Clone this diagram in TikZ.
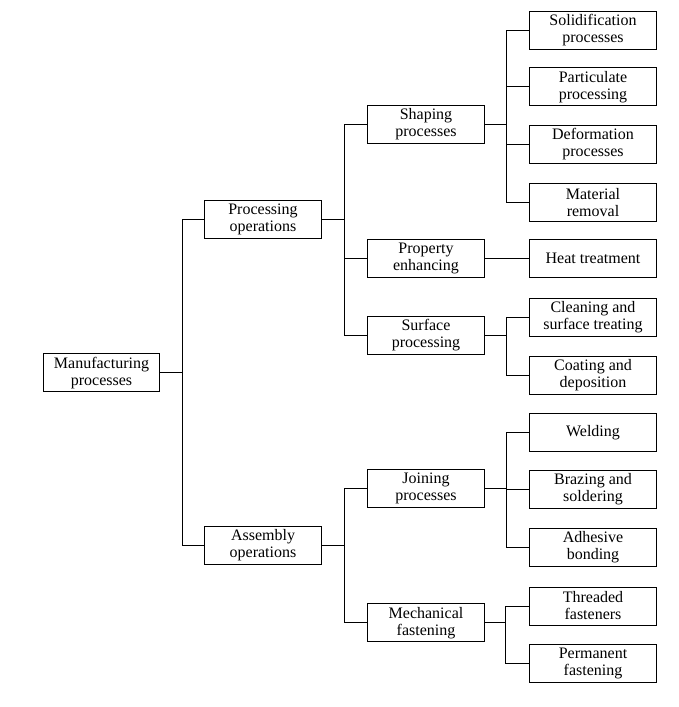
\documentclass[tikz,border=0pt]{standalone}
\usepackage{fontspec}
\setmainfont{Liberation Serif}
\begin{document}
\begin{tikzpicture}[
    x=1pt, y=-1pt,
    proc/.style={rectangle, draw, line width=0.9pt, minimum width=117pt, minimum height=38pt, inner sep=1pt, align=center, font=\fontsize{16}{17}\selectfont},
    leaf/.style={proc, minimum width=127pt},
    link/.style={line width=0.9pt}
]
    \useasboundingbox (0,0) rectangle (678,707);

    % Hauptprozesse
    \node[proc, minimum width=116pt] (mp) at (101.5,372.8) {Manufacturing\\processes};
    \node[proc] (po) at (263,219.3) {Processing\\operations};
    \node[proc] (ao) at (263,545.5) {Assembly\\operations};

    % Teilprozesse
    \node[proc] (sp) at (426,124.5) {Shaping\\processes};
    \node[proc] (pe) at (426,258.8) {Property\\enhancing};
    \node[proc] (su) at (426,335.5) {Surface\\processing};
    \node[proc] (jp) at (426,488) {Joining\\processes};
    \node[proc] (mf) at (426,622.8) {Mechanical\\fastening};

    % Verfahren
    \node[leaf] (sol) at (593,30.5) {Solidification\\processes};
    \node[leaf] (par) at (593,86.8) {Particulate\\processing};
    \node[leaf] (def) at (593,144.3) {Deformation\\processes};
    \node[leaf] (mr) at (593,202.5) {Material\\removal};
    \node[leaf] (ht) at (593,258.8) {Heat treatment};
    \node[leaf] (cl) at (593,317.3) {Cleaning and\\surface treating};
    \node[leaf] (co) at (593,375) {Coating and\\deposition};
    \node[leaf] (we) at (593,432.3) {Welding};
    \node[leaf] (br) at (593,489.3) {Brazing and\\soldering};
    \node[leaf] (ad) at (593,547.3) {Adhesive\\bonding};
    \node[leaf] (tf) at (593,606) {Threaded\\fasteners};
    \node[leaf] (pf) at (593,663.3) {Permanent\\fastening};

    % Verzweigungen
    \coordinate (j0) at (182.5,372.8);
    \coordinate (j1) at (344,219.3);
    \coordinate (j2) at (344,545.5);
    \coordinate (jsp) at (506,124.5);
    \coordinate (jsu) at (506,335.5);
    \coordinate (jjp) at (506,488);
    \coordinate (jmf) at (505.5,622.8);

    % Verbindungen
    \draw[link] (mp) -- (j0);
    \draw[link] (j0) |- (po);
    \draw[link] (j0) |- (ao);
    \draw[link] (po) -- (j1);
    \draw[link] (j1) |- (sp);
    \draw[link] (j1) |- (pe);
    \draw[link] (j1) |- (su);
    \draw[link] (ao) -- (j2);
    \draw[link] (j2) |- (jp);
    \draw[link] (j2) |- (mf);
    \draw[link] (sp) -- (jsp);
    \draw[link] (jsp) |- (sol);
    \draw[link] (jsp) |- (par);
    \draw[link] (jsp) |- (def);
    \draw[link] (jsp) |- (mr);
    \draw[link] (pe) -- (ht);
    \draw[link] (su) -- (jsu);
    \draw[link] (jsu) |- (cl);
    \draw[link] (jsu) |- (co);
    \draw[link] (jp) -- (jjp);
    \draw[link] (jjp) |- (we);
    \draw[link] (jjp) |- (br);
    \draw[link] (jjp) |- (ad);
    \draw[link] (mf) -- (jmf);
    \draw[link] (jmf) |- (tf);
    \draw[link] (jmf) |- (pf);
\end{tikzpicture}
\end{document}
